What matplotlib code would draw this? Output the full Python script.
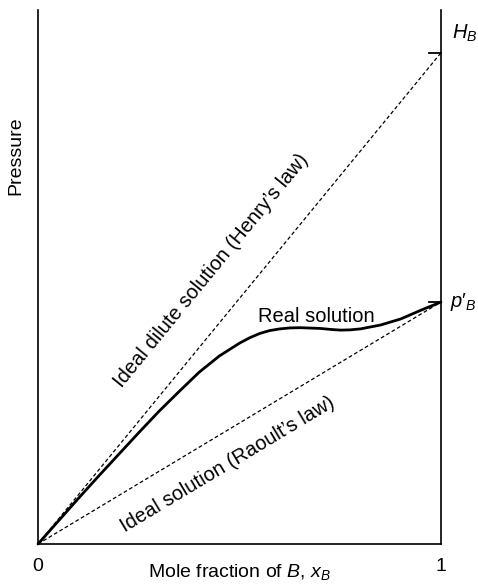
import matplotlib
matplotlib.use("Agg")
import matplotlib.pyplot as plt
import numpy as np

plt.rcParams['font.family'] = ['Liberation Sans', 'DejaVu Sans']
plt.rcParams['mathtext.fontset'] = 'custom'
plt.rcParams['mathtext.rm'] = 'Liberation Sans'
plt.rcParams['mathtext.it'] = 'Liberation Sans:italic'

# pressures relative to p'_B
p_B = 1.0
H_B = 2.03

# real solution curve
x_real = [0, 0.05, 0.1, 0.15, 0.2, 0.25, 0.3, 0.35, 0.4, 0.45, 0.5, 0.525,
          0.55, 0.575, 0.6, 0.625, 0.65, 0.7, 0.725, 0.75, 0.775, 0.8,
          0.85, 0.9, 0.95, 1.0]
y_real = [0, 0.094, 0.188, 0.28, 0.37, 0.46, 0.548, 0.63, 0.71, 0.777, 0.83, 0.852,
          0.870, 0.882, 0.889, 0.893, 0.894, 0.891, 0.887, 0.884, 0.885, 0.889,
          0.905, 0.93, 0.966, 1.0]

x_ends = [0, 1]
henry = [0, H_B]
raoult = [0, p_B]

fig = plt.figure(figsize=(4.78, 5.85), dpi=100)
ax = fig.add_axes([0.0795, 0.0701, 0.843, 0.9128])

ax.plot(x_ends, henry, color='black', lw=0.9, ls=(0, (3, 2)), clip_on=False)
ax.plot(x_ends, raoult, color='black', lw=0.9, ls=(0, (3, 2)), clip_on=False)
ax.plot(x_real, y_real, color='black', lw=2, clip_on=False,
        solid_capstyle='round', solid_joinstyle='round')

# short marks on the right axis
for v in [H_B, p_B]:
    ax.plot([0.97, 1.0], [v, v], color='black', lw=1.3, clip_on=False)

ax.set_xlim(0, 1)
ax.set_ylim(0, 2.207)

ax.spines['top'].set_color('none')
for s in ['left', 'right', 'bottom']:
    ax.spines[s].set_linewidth(1.2)

ax.set_xticks([0, 1])
ax.set_xticklabels(['0', '1'], fontsize=14)
ax.tick_params(axis='x', length=0, pad=10)
ax.set_yticks([])

ax.set_xlabel("Mole fraction of $B$, $x_B$", fontsize=14, labelpad=-9)
ax.set_ylabel("Pressure", fontsize=14)
ax.yaxis.set_label_coords(-0.035, 0.727)

ax.text(1.027, H_B + 0.08, "$H_B$", fontsize=14.5, ha='left', va='center',
        clip_on=False)
ax.text(1.022, p_B, "$p\u2032_B$", fontsize=14.5, ha='left', va='center',
        clip_on=False)

ax.text(0.43, 1.13, "Ideal dilute solution (Henry’s law)", fontsize=14.5,
        rotation=50.7, ha='center', va='center', rotation_mode='anchor')
ax.text(0.47, 0.33, "Ideal solution (Raoult’s law)", fontsize=14.5,
        rotation=31, ha='center', va='center', rotation_mode='anchor')
ax.text(0.69, 0.94, "Real solution", fontsize=14.5, ha='center', va='center')

fig.savefig("out.png", dpi=100)
